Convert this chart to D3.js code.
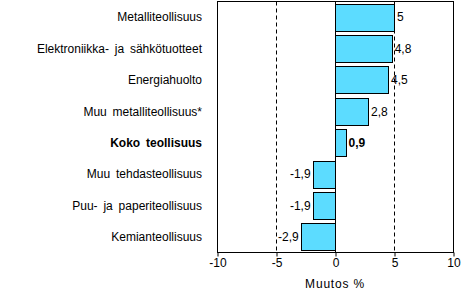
<!DOCTYPE html>
<html>
<head>
<meta charset="utf-8">
<script src="https://cdn.jsdelivr.net/npm/d3@7"></script>
<style>
  body { margin: 0; background: #fff; }
  svg { display: block; font-family: "Liberation Sans", Arial, sans-serif; }
</style>
</head>
<body>
<svg id="chart" width="461" height="293"></svg>
<script>
// data
const categories = [
  "Metalliteollisuus",
  "Elektroniikka- ja sähkötuotteet",
  "Energiahuolto",
  "Muu metalliteollisuus*",
  "Koko teollisuus",
  "Muu tehdasteollisuus",
  "Puu- ja paperiteollisuus",
  "Kemianteollisuus",
];
const values = [5, 4.8, 4.5, 2.8, 0.9, -1.9, -1.9, -2.9];
const valueLabels = ["5", "4,8", "4,5", "2,8", "0,9", "-1,9", "-1,9", "-2,9"];
const xTicks = [-10, -5, 0, 5, 10];
const gridTicks = [-5, 5];
const boldCategory = "Koko teollisuus";
const axisTitle = "Muutos %";

const plot = { left: 217, right: 453, top: 1.5, bottom: 252.5 };

const svg = d3.select("#chart");

const x = d3.scaleLinear().domain([-10, 10]).range([plot.left, plot.right]);
const y = d3
  .scaleBand()
  .domain(categories)
  .range([plot.top, plot.bottom])
  .paddingInner(0.14)
  .paddingOuter(0.07);

const data = categories.map((c, i) => ({ cat: c, value: values[i], label: valueLabels[i] }));

// dashed grid lines
svg
  .selectAll("line.grid")
  .data(gridTicks)
  .enter()
  .append("line")
  .attr("class", "grid")
  .attr("x1", (d) => Math.round(x(d)) + 0.5)
  .attr("x2", (d) => Math.round(x(d)) + 0.5)
  .attr("y1", plot.top)
  .attr("y2", plot.bottom)
  .attr("stroke", "#000")
  .attr("stroke-dasharray", "4,3");

// bars
svg
  .selectAll("rect.bar")
  .data(data)
  .enter()
  .append("rect")
  .attr("class", "bar")
  .attr("x", (d) => Math.round(x(Math.min(0, d.value))) + 0.5)
  .attr("y", (d) => Math.round(y(d.cat)) + 0.5)
  .attr("width", (d) => Math.round(Math.abs(x(d.value) - x(0))))
  .attr("height", Math.round(y.bandwidth()))
  .attr("fill", "#5cdcff")
  .attr("stroke", "#000")
  .attr("stroke-width", 1);

// zero line
svg
  .append("line")
  .attr("x1", Math.round(x(0)) + 0.5)
  .attr("x2", Math.round(x(0)) + 0.5)
  .attr("y1", plot.top)
  .attr("y2", plot.bottom)
  .attr("stroke", "#000");

// frame
svg
  .append("rect")
  .attr("x", plot.left + 0.5)
  .attr("y", plot.top)
  .attr("width", plot.right - plot.left)
  .attr("height", plot.bottom - plot.top)
  .attr("fill", "none")
  .attr("stroke", "#000");

// value labels
svg
  .selectAll("text.val")
  .data(data)
  .enter()
  .append("text")
  .attr("class", "val")
  .attr("x", (d) => (d.value >= 0 ? x(d.value) + 3 : x(d.value) - 2))
  .attr("y", (d) => y(d.cat) + y.bandwidth() / 2)
  .attr("dy", "0.35em")
  .attr("text-anchor", (d) => (d.value >= 0 ? "start" : "end"))
  .attr("font-size", 12)
  .attr("font-weight", (d) => (d.cat === boldCategory ? "bold" : "normal"))
  .text((d) => d.label);

// category labels
svg
  .selectAll("text.cat")
  .data(data)
  .enter()
  .append("text")
  .attr("class", "cat")
  .attr("x", 202)
  .attr("y", (d) => y(d.cat) + y.bandwidth() / 2)
  .attr("dy", "0.35em")
  .attr("text-anchor", "end")
  .attr("font-size", 12)
  .attr("word-spacing", 2.5)
  .attr("font-weight", (d) => (d.cat === boldCategory ? "bold" : "normal"))
  .text((d) => d.cat);

// x axis
const xAxis = svg
  .append("g")
  .attr("transform", `translate(0.5, ${plot.bottom})`)
  .call(
    d3
      .axisBottom(x)
      .tickValues(xTicks)
      .tickSize(4)
      .tickPadding(2)
      .tickFormat((d) => String(d))
  );
xAxis.select(".domain").remove();
xAxis.selectAll("text").attr("font-size", 12).attr("font-family", null).attr("fill", "#000");
xAxis.selectAll("line").attr("stroke", "#000");

svg
  .append("text")
  .attr("x", x(0))
  .attr("y", 288)
  .attr("text-anchor", "middle")
  .attr("font-size", 12)
  .attr("letter-spacing", 0.8)
  .text(axisTitle);
</script>
</body>
</html>
